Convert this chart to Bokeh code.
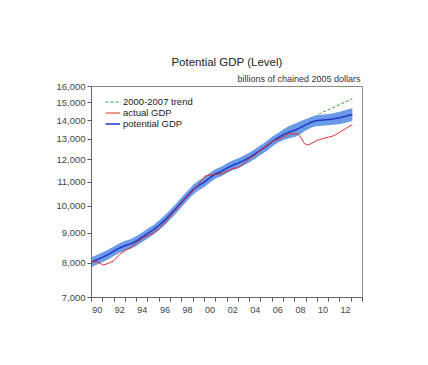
from bokeh.plotting import figure
from bokeh.models import FixedTicker, Title, Legend, LegendItem, ColumnDataSource
from bokeh.embed import file_html
from bokeh.resources import INLINE

# ---- data ----
pot_years = [1990.0, 1990.5, 1991.0, 1991.5, 1992.0, 1992.5, 1993.0, 1993.5, 1994.0, 1994.5,
             1995.0, 1995.5, 1996.0, 1996.5, 1997.0, 1997.5, 1998.0, 1998.5, 1999.0, 1999.5,
             2000.0, 2000.5, 2001.0, 2001.5, 2002.0, 2002.5, 2003.0, 2003.5, 2004.0, 2004.5,
             2005.0, 2005.5, 2006.0, 2006.5, 2007.0, 2007.5, 2008.0, 2008.5, 2009.0, 2009.5,
             2010.0, 2010.5, 2011.0, 2011.5, 2012.0, 2012.5, 2013.1]
potential_gdp = [8040, 8120, 8200, 8290, 8400, 8500, 8580, 8640, 8740, 8870,
                 9000, 9130, 9300, 9480, 9700, 9930, 10180, 10430, 10680, 10860,
                 11000, 11200, 11370, 11470, 11620, 11750, 11850, 11980, 12120, 12290,
                 12480, 12670, 12890, 13080, 13250, 13380, 13480, 13620, 13780, 13920,
                 14000, 14030, 14060, 14100, 14160, 14240, 14340]
band_halfwidth = [0.019] * 34 + [0.021, 0.024, 0.026, 0.025, 0.022, 0.021,
                                 0.021, 0.022, 0.022, 0.023, 0.024, 0.025, 0.025]

act_years = [1990.0, 1990.5, 1991.0, 1991.5, 1992.0, 1992.5, 1993.0, 1993.5, 1994.0, 1994.5,
             1995.0, 1995.5, 1996.0, 1996.5, 1997.0, 1997.5, 1998.0, 1998.5, 1999.0, 1999.5,
             2000.0, 2000.5, 2001.0, 2001.5, 2002.0, 2002.5, 2003.0, 2003.5, 2004.0, 2004.5,
             2005.0, 2005.5, 2006.0, 2006.5, 2007.0, 2007.5, 2008.0, 2008.3, 2008.6, 2008.85,
             2009.1, 2009.5, 2010.0, 2010.5, 2011.0, 2011.5, 2012.0, 2012.5, 2013.1]
actual_gdp = [8050, 8060, 7950, 8000, 8090, 8290, 8420, 8520, 8680, 8820,
              8920, 9020, 9180, 9380, 9640, 9890, 10150, 10400, 10640, 10900,
              11250, 11320, 11340, 11360, 11480, 11600, 11640, 11820, 12080, 12230,
              12490, 12680, 12900, 13000, 13130, 13290, 13300, 13280, 13050, 12800,
              12720, 12800, 12960, 13050, 13120, 13200, 13380, 13560, 13780]

trend_years = [2004.0, 2007.5, 2008.8, 2010.2, 2013.1]
trend_gdp = [12250, 13400, 13830, 14380, 15250]

x_tick_pos = [1990.5, 1992.5, 1994.5, 1996.5, 1998.5, 2000.5, 2002.5, 2004.5, 2006.5, 2008.5, 2010.5, 2012.5]
x_tick_labels = ["90", "92", "94", "96", "98", "00", "02", "04", "06", "08", "10", "12"]
x_minor = list(range(1990, 2015))
y_ticks = [7000, 8000, 9000, 10000, 11000, 12000, 13000, 14000, 15000, 16000]
y_tick_labels = ["7,000", "8,000", "9,000", "10,000", "11,000", "12,000", "13,000", "14,000", "15,000", "16,000"]

FONT = "Liberation Sans"

p = figure(width=412, height=349, x_range=(1990, 2014), y_range=(7000, 16000),
           y_axis_type="log", output_backend="svg", toolbar_location=None, title=None,
           min_border_left=91, min_border_right=50, min_border_top=86, min_border_bottom=52)
p.background_fill_color = "white"
p.border_fill_color = "white"
p.outline_line_color = "#8a8a8a"
p.xgrid.visible = False
p.ygrid.visible = False

band_lo = [v * (1 - w) for v, w in zip(potential_gdp, band_halfwidth)]
band_hi = [v * (1 + w) for v, w in zip(potential_gdp, band_halfwidth)]

src_pot = ColumnDataSource(dict(x=pot_years, y=potential_gdp, lo=band_lo, hi=band_hi))

r_trend = p.line(trend_years, trend_gdp, line_color="#3a9a3a", line_width=1, line_dash="3 2")
p.varea(x="x", y1="lo", y2="hi", source=src_pot, fill_color="#6a9ae8", fill_alpha=1.0)
r_pot = p.line(x="x", y="y", source=src_pot, line_color="#2236c8", line_width=1.5)
r_act = p.line(act_years, actual_gdp, line_color="#e0302a", line_width=1)

legend = Legend(items=[LegendItem(label="2000-2007 trend", renderers=[r_trend]),
                       LegendItem(label="actual GDP", renderers=[r_act]),
                       LegendItem(label="potential GDP", renderers=[r_pot])],
                location=(14, 168), padding=0, spacing=0, margin=0,
                glyph_width=15, glyph_height=11, label_height=11, label_standoff=3,
                label_text_font=FONT, label_text_font_size="9.5px", label_text_color="#222222",
                border_line_color=None, background_fill_alpha=0)
p.add_layout(legend, "center")

# x axis
xa = p.xaxis[0]
xa.ticker = FixedTicker(ticks=x_tick_pos, minor_ticks=x_minor)
xa.major_label_overrides = {t: l for t, l in zip(x_tick_pos, x_tick_labels)}
xa.major_tick_out = 0
xa.major_tick_in = 0
xa.minor_tick_out = 4
xa.minor_tick_in = 0
xa.minor_tick_line_color = "#555555"
xa.axis_line_color = "#666666"
xa.major_label_standoff = 5
xa.major_label_text_font = FONT
xa.major_label_text_font_size = "9px"
xa.major_label_text_color = "#444444"

# y axis
ya = p.yaxis[0]
ya.ticker = FixedTicker(ticks=y_ticks, minor_ticks=[])
ya.major_label_overrides = {t: l for t, l in zip(y_ticks, y_tick_labels)}
ya.major_tick_out = 4
ya.major_tick_in = 0
ya.minor_tick_out = 0
ya.minor_tick_in = 0
ya.major_tick_line_color = "#555555"
ya.axis_line_color = "#666666"
ya.major_label_standoff = 2
ya.major_label_text_font = FONT
ya.major_label_text_font_size = "9.5px"
ya.major_label_text_color = "#444444"

# titles (first added sits closest to the frame)
p.add_layout(Title(text="billions of chained 2005 dollars", align="right", text_font=FONT,
                   text_font_size="9px", text_font_style="normal", text_color="#333333",
                   standoff=6, offset=2), "above")
p.add_layout(Title(text="Potential GDP (Level)", align="center", text_font=FONT,
                   text_font_size="11.5px", text_font_style="normal", text_color="#222222",
                   standoff=2), "above")

open("out.html", "w").write(file_html(p, INLINE))
